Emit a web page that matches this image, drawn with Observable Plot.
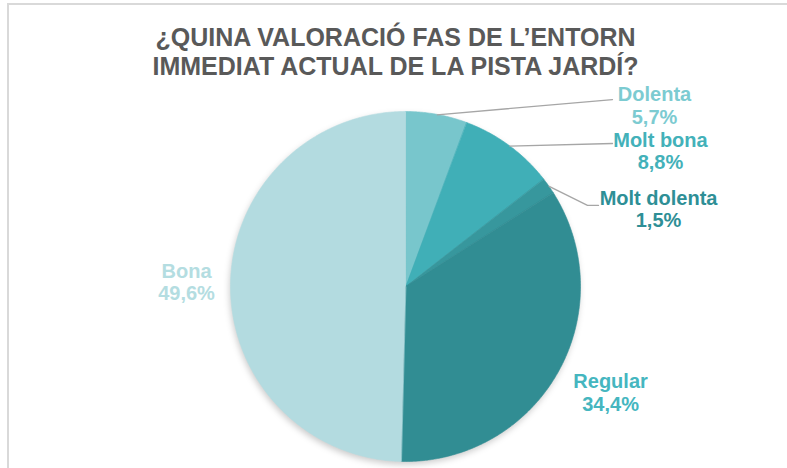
<!DOCTYPE html>
<html><head><meta charset="utf-8">
<script src="https://cdn.jsdelivr.net/npm/d3@7"></script>
<script src="https://cdn.jsdelivr.net/npm/@observablehq/plot@0.6"></script>
<style>
html,body{margin:0;padding:0;background:#fff;}
#wrap{position:relative;width:787px;height:468px;overflow:hidden;font-family:"Liberation Sans",Arial,sans-serif;}
#border{position:absolute;left:7px;top:3px;width:800px;height:480px;border-top:2px solid #d9d9d9;border-left:2px solid #d9d9d9;}
#title{position:absolute;left:0;width:791px;top:23px;text-align:center;font-weight:bold;font-size:25px;line-height:29px;color:#595959;}
#chart{position:absolute;left:0;top:0;}
</style></head><body>
<div id="wrap"><div id="border"></div><div id="chart"></div><div id="title">¿QUINA VALORACIÓ FAS DE L’ENTORN<br>IMMEDIAT ACTUAL DE LA PISTA JARDÍ?</div></div>
<script>
// ---- data ----
const categories = ["Dolenta", "Molt bona", "Molt dolenta", "Regular", "Bona"];
const values = [5.7, 8.8, 1.5, 34.4, 49.6];
const valueLabels = ["5,7%", "8,8%", "1,5%", "34,4%", "49,6%"];

// ---- style / layout (not data) ----
const sliceColors = ["#78c6cc", "#40afb7", "#37979d", "#318d93", "#b3dbe0"];
const labelColors = ["#7ccbd1", "#43b1b9", "#2e8f96", "#45b6bf", "#b4dde1"];
// label anchors, in pie-radius units relative to the centre
const labelLayout = {
  "Dolenta":      {x: 1.42,  y: 1.037, leader: [[1.18, 1.071]]},
  "Molt bona":    {x: 1.454, y: 0.777, leader: [[1.18, 0.82]]},
  "Molt dolenta": {x: 1.443, y: 0.446, leader: [[1.037, 0.466], [1.10, 0.466]]},
  "Regular":      {x: 1.169, y: -0.603, leader: null},
  "Bona":         {x: -1.254, y: 0.029, leader: null}
};

const data = categories.map((name, i) => ({name, value: values[i], label: valueLabels[i], i}));
const arcs = d3.pie().sort(null).value(d => d.value)(data);

// arc outline of a slice (the area's baseline is the pie centre)
function arcPoints(a) {
  const pts = [];
  const n = Math.max(2, Math.ceil((a.endAngle - a.startAngle) / (Math.PI / 360)));
  for (let k = 0; k <= n; k++) {
    const t = a.startAngle + (a.endAngle - a.startAngle) * k / n;
    pts.push({x: Math.sin(t), y: Math.cos(t)});
  }
  return pts;
}
const fullCircle = arcPoints({startAngle: 0, endAngle: 2 * Math.PI});

const marks = [];
marks.push(Plot.area(fullCircle, {x1: "x", y1: "y", x2: 0, y2: 0, fill: "#000", fillOpacity: 0.2, dx: -1, dy: 3}));
arcs.forEach((a, i) => {
  marks.push(Plot.area(arcPoints(a), {x1: "x", y1: "y", x2: 0, y2: 0, fill: sliceColors[i], stroke: sliceColors[i], strokeWidth: 0.6}));
});
arcs.forEach((a, i) => {
  const lay = labelLayout[a.data.name];
  if (lay.leader) {
    const mid = (a.startAngle + a.endAngle) / 2;
    const pts = [{x: Math.sin(mid), y: Math.cos(mid)}].concat(lay.leader.map(([x, y]) => ({x, y})));
    marks.push(Plot.line(pts, {x: "x", y: "y", stroke: "#a6a6a6", strokeWidth: 1.3}));
  }
});
arcs.forEach((a, i) => {
  const lay = labelLayout[a.data.name];
  marks.push(Plot.text([a.data], {x: () => lay.x, y: () => lay.y, text: d => d.name + "\n" + d.label, fill: labelColors[i], fontSize: 20, fontWeight: "bold", lineHeight: 1.12, textAnchor: "middle"}));
});

const chart = Plot.plot({
  width: 787, height: 468,
  marginLeft: 230.5, marginRight: 206.5, marginTop: 111.5, marginBottom: 6.5,
  x: {domain: [-1, 1], axis: null},
  y: {domain: [-1, 1], axis: null},
  style: {fontFamily: "'Liberation Sans', Arial, sans-serif", background: "transparent", overflow: "visible"},
  marks
});
document.getElementById("chart").appendChild(chart);
d3.select(chart).select("g[aria-label='area']").style("filter", "blur(3px)");
</script>
</body></html>
